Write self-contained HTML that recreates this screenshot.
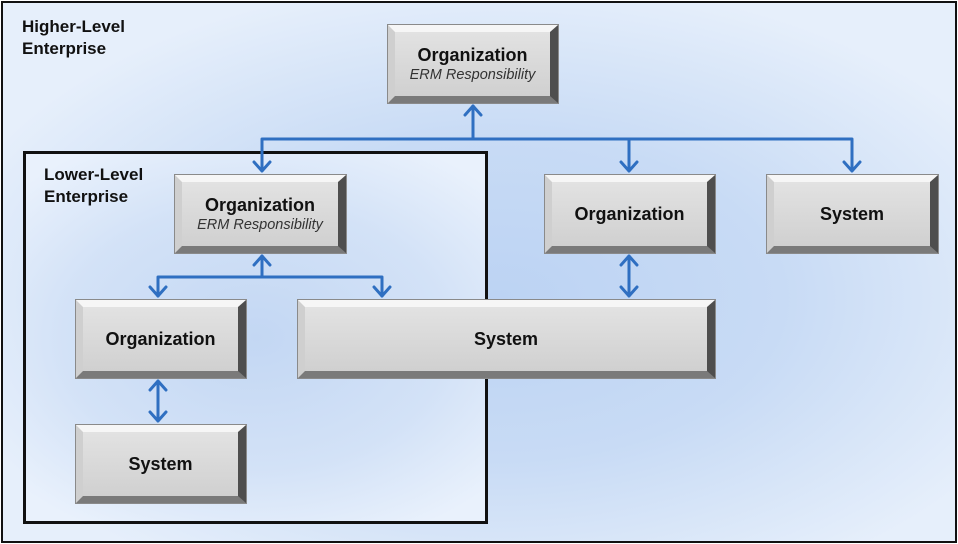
<!DOCTYPE html>
<html><head><meta charset="utf-8"><style>
*{margin:0;padding:0;box-sizing:border-box}
body{width:958px;height:544px;overflow:hidden;background:#fff;font-family:"Liberation Sans",Arial,sans-serif}
#outer{position:absolute;left:1px;top:1px;width:956px;height:542px;border:2px solid #111;
background:radial-gradient(ellipse 60% 60% at 52% 55%,#bcd3f3 0%,#c8dbf5 50%,#e6effb 100%)}
#inner{position:absolute;left:23px;top:151px;width:465px;height:373px;border:3px solid #111;
background:radial-gradient(ellipse 70% 60% at 50% 50%,#c3d7f3 0%,#d3e2f7 60%,#e9f1fc 100%)}
.lbl{position:absolute;font-weight:bold;font-size:17px;line-height:22px;color:#111}
.b{position:absolute;border-style:solid;border-width:7px 8px 7px 7px;border-color:#f6f6f6 #4e4e4e #7a7a7a #cfcfcf;
background:linear-gradient(#e2e2e2,#d0d0d0);outline:1px solid #8a8a8a;display:flex;flex-direction:column;align-items:center;justify-content:center;color:#111}
.b b{font-size:18px}
.b i{font-size:14.5px;color:#333;margin-top:1px}
svg{position:absolute;left:0;top:0}
</style></head><body>
<div id="outer"></div>
<div id="inner"></div>
<div class="lbl" style="left:22px;top:16px">Higher-Level<br>Enterprise</div>
<div class="lbl" style="left:44px;top:164px">Lower-Level<br>Enterprise</div>
<svg width="958" height="544" viewBox="0 0 958 544">
<g stroke="#2f6fc1" stroke-width="3" fill="none" stroke-linecap="round" stroke-linejoin="round">
<path d="M262 170V139H852V170M629 139V170M473 139V106"/>
<path d="M465 115L473 106L481 115"/>
<path d="M254 162L262 171L270 162M621 162L629 171L637 162M844 162L852 171L860 162"/>
<path d="M158 296V277H382V296M262 277V256"/>
<path d="M254 265L262 256L270 265"/>
<path d="M150 287L158 296L166 287M374 287L382 296L390 287"/>
<path d="M629 256V296M621 265L629 256L637 265M621 287L629 296L637 287"/>
<path d="M158 381V421M150 390L158 381L166 390M150 412L158 421L166 412"/>
</g></svg>
<div class="b" style="left:388px;top:25px;width:170px;height:78px"><b>Organization</b><i>ERM Responsibility</i></div>
<div class="b" style="left:175px;top:175px;width:171px;height:78px"><b>Organization</b><i>ERM Responsibility</i></div>
<div class="b" style="left:545px;top:175px;width:170px;height:78px"><b>Organization</b></div>
<div class="b" style="left:767px;top:175px;width:171px;height:78px"><b>System</b></div>
<div class="b" style="left:76px;top:300px;width:170px;height:78px"><b>Organization</b></div>
<div class="b" style="left:298px;top:300px;width:417px;height:78px"><b>System</b></div>
<div class="b" style="left:76px;top:425px;width:170px;height:78px"><b>System</b></div>
</body></html>
